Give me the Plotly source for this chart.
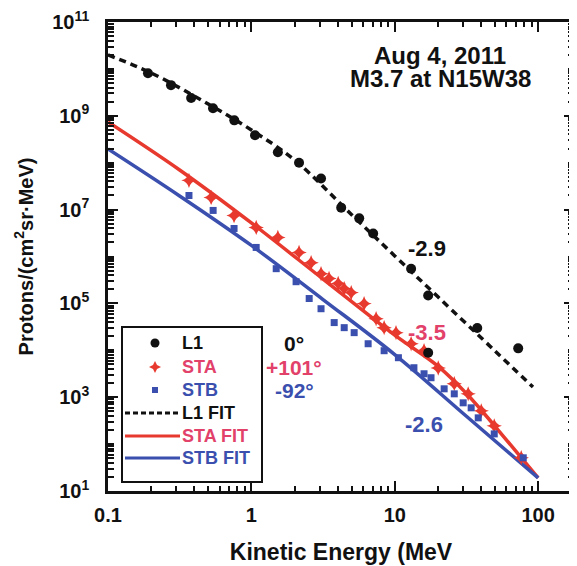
import plotly.graph_objects as go

# ---------------- data ----------------
l1_E = [0.19, 0.275, 0.38, 0.54, 0.76, 1.06, 1.53, 2.15, 3.06, 4.23, 5.65, 7.07,
        13.0, 17.1, 17.1, 37.6, 72.6]
l1_J = [8.1e9, 4.5e9, 2.4e9, 1.45e9, 8.0e8, 3.85e8, 1.67e8, 1.0e8, 4.6e7, 1.1e7,
        6.5e6, 3.1e6, 5.5e5, 1.47e5, 8.9e3, 3.0e4, 1.1e4]

sta_E = [0.367, 0.524, 0.757, 1.08, 1.53, 2.15, 2.61, 3.06, 3.48, 4.03, 4.44, 4.97,
         6.11, 7.41, 8.43, 10.2, 13.0, 16.0, 20.1, 26.0, 32.5, 40.1, 49.4, 76.2]
sta_J = [4.2e7, 1.82e7, 7.5e6, 4.17e6, 2.55e6, 1.22e6, 7.4e5, 4.3e5, 3.4e5, 2.65e5,
         2.07e5, 1.70e5, 9.9e4, 4.7e4, 3.04e4, 2.38e4, 1.38e4, 9.8e3, 4.2e3, 1.93e3,
         1.18e3, 512, 245, 51]

stb_E = [0.367, 0.541, 0.757, 1.08, 1.49, 2.05, 2.53, 3.06, 3.78, 4.44, 5.21, 6.52,
         8.43, 10.6, 13.6, 16.0, 17.9, 22.1, 26.0, 30.0, 34.1, 38.2, 49.4, 78.7]
stb_J = [2.0e7, 9.6e6, 3.96e6, 1.56e6, 5.5e5, 2.9e5, 1.27e5, 7.7e4, 3.9e4, 3.04e4,
         2.38e4, 1.38e4, 9.8e3, 6.95e3, 4.25e3, 3.16e3, 2.6e3, 1.51e3, 1.18e3, 759,
         594, 363, 165, 51]

l1fit_E = [0.1, 0.2, 0.5, 1, 2, 5, 10, 20, 50, 92]
l1fit_J = [1.98e10, 8.2e9, 1.79e9, 4.98e8, 1.14e8, 7.8e6, 1.03e6, 1.38e5, 9.7e3, 1.65e3]

stafit_E = [0.1, 0.316, 1, 3.16, 10, 20, 31.6, 40, 50, 100]
stafit_J = [7.4e8, 7.0e7, 5.2e6, 3.3e5, 2.1e4, 4.6e3, 1.2e3, 533, 240, 19]

stbfit_E = [0.1, 0.316, 1, 3.16, 10, 31.6, 100]
stbfit_J = [1.96e8, 1.95e7, 1.72e6, 1.21e5, 8.1e3, 392, 19]

x_tickvals = [0.1, 1, 10, 100]
x_ticktext = ["0.1", "1", "10", "100"]
y_tickvals = [1e1, 1e3, 1e5, 1e7, 1e9, 1e11]
y_ticktext = ["10<sup>1</sup>", "10<sup>3</sup>", "10<sup>5</sup>",
              "10<sup>7</sup>", "10<sup>9</sup>", "10<sup>11</sup>"]

title_lines = ["Aug 4, 2011", "M3.7 at N15W38"]
slope_labels = ["-2.9", "-3.5", "-2.6"]
angle_labels = ["0°", "+101°", "-92°"]
legend_names = ["L1", "STA", "STB", "L1 FIT", "STA FIT", "STB FIT"]

# ---------------- styles ----------------
BLACK = "#111111"
RED = "#e8392e"
RED_TXT = "#e2416a"
BLUE = "#3a4fae"
FONT = "Liberation Sans, Arial, Helvetica, sans-serif"

W, H = 577, 566
OFF = 8  # page body offset of the figure
# plot area in page pixels
L, R, T, B = 108, 574, 22, 491
ML, MR, MT, MB = L - OFF, W - (R - OFF), T - OFF, H - (B - OFF)


def px(x):
    return (x - L) / (R - L)


def py(y):
    return (B - y) / (B - T)


fig = go.Figure()

fig.add_trace(go.Scatter(x=l1fit_E, y=l1fit_J, mode="lines", line_shape="spline",
                         line=dict(color=BLACK, width=3.5, dash="7px,5px"),
                         showlegend=False, name="L1 FIT"))
fig.add_trace(go.Scatter(x=stafit_E, y=stafit_J, mode="lines", line_shape="spline",
                         line=dict(color=RED, width=3.5), showlegend=False, name="STA FIT"))
fig.add_trace(go.Scatter(x=stbfit_E, y=stbfit_J, mode="lines", line_shape="spline",
                         line=dict(color=BLUE, width=3.5), showlegend=False, name="STB FIT"))

fig.add_trace(go.Scatter(x=sta_E, y=sta_J, mode="markers",
                         marker=dict(symbol="star-diamond", size=11, color=RED),
                         showlegend=False, name="STA"))
fig.add_trace(go.Scatter(x=stb_E, y=stb_J, mode="markers",
                         marker=dict(symbol="square", size=7, color=BLUE),
                         showlegend=False, name="STB"))
fig.add_trace(go.Scatter(x=l1_E, y=l1_J, mode="markers",
                         marker=dict(symbol="circle", size=10, color=BLACK),
                         showlegend=False, name="L1"))

minor_x = [d * 10.0 ** k for k in range(-1, 3) for d in range(2, 10)]
minor_y = [d * 10.0 ** k for k in range(1, 11) for d in range(1, 10) if (d > 1 or k % 2 == 0)]

axis_common = dict(showline=True, linecolor=BLACK, linewidth=2.5, mirror="ticks",
                   ticks="inside", ticklen=10, tickwidth=2, tickcolor=BLACK,
                   showgrid=False, zeroline=False, automargin=False,
                   ticklabeloverflow="allow",
                   tickfont=dict(family=FONT, size=20, color=BLACK, weight="bold"))

fig.update_xaxes(type="log", range=[-1, 2.25], tickmode="array",
                 tickvals=x_tickvals, ticktext=x_ticktext, ticklabelstandoff=4,
                 minor=dict(ticks="inside", ticklen=5, tickwidth=1.5, tickcolor=BLACK,
                            tickvals=minor_x, showgrid=False),
                 title=dict(text="Kinetic Energy (MeV",
                            font=dict(family=FONT, size=23, color=BLACK, weight="bold"),
                            standoff=20),
                 **axis_common)
fig.update_yaxes(type="log", range=[1, 11], tickmode="array",
                 tickvals=y_tickvals, ticktext=y_ticktext, ticklabelstandoff=12,
                 minor=dict(ticks="inside", ticklen=6, tickwidth=1.5, tickcolor=BLACK,
                            tickvals=minor_y, showgrid=False),
                 title=dict(text="Protons/(cm<sup>2</sup>sr·MeV)",
                            font=dict(family=FONT, size=20, color=BLACK, weight="bold"),
                            standoff=14),
                 **axis_common)

ann = []
# title block
ann.append(dict(x=px(440), y=py(55), text=title_lines[0]))
ann.append(dict(x=px(440), y=py(78), text=title_lines[1]))
for a in ann:
    a.update(xref="paper", yref="paper", showarrow=False, xanchor="center",
             yanchor="middle", font=dict(family=FONT, size=24, color=BLACK, weight="bold"))

# slope labels
for txt, (xx, yy), col in zip(slope_labels, [(427, 248), (427, 332), (424, 424)],
                              [BLACK, RED_TXT, BLUE]):
    ann.append(dict(x=px(xx), y=py(yy), xref="paper", yref="paper", text=txt,
                    showarrow=False, xanchor="center", yanchor="middle",
                    font=dict(family=FONT, size=22, color=col, weight="bold")))

# angle labels
for txt, yy, col in zip(angle_labels, [343, 367, 390], [BLACK, RED_TXT, BLUE]):
    ann.append(dict(x=px(294), y=py(yy), xref="paper", yref="paper", text=txt,
                    showarrow=False, xanchor="center", yanchor="middle",
                    font=dict(family=FONT, size=21, color=col, weight="bold")))

# legend texts
leg_y = [343, 367, 390, 413, 436, 458]
leg_col = [BLACK, RED_TXT, BLUE, BLACK, RED_TXT, BLUE]
for txt, yy, col in zip(legend_names, leg_y, leg_col):
    ann.append(dict(x=px(180), y=py(yy), xref="paper", yref="paper", text=txt,
                    showarrow=False, xanchor="left", yanchor="middle",
                    font=dict(family=FONT, size=18, color=col, weight="bold")))

shapes = []
# legend box
shapes.append(dict(type="rect", xref="paper", yref="paper", x0=px(122), x1=px(262),
                   y0=py(482), y1=py(327), line=dict(color=BLACK, width=2),
                   fillcolor="white", layer="above"))
# legend line samples
for yy, col, dash in zip(leg_y[3:], [BLACK, RED, BLUE], ["5px,3px", "solid", "solid"]):
    shapes.append(dict(type="line", xref="paper", yref="paper", x0=px(125), x1=px(180),
                       y0=py(yy), y1=py(yy), line=dict(color=col, width=3, dash=dash),
                       layer="above"))
# legend markers
shapes.append(dict(type="circle", xref="paper", yref="paper", xsizemode="pixel",
                   ysizemode="pixel", xanchor=px(155), yanchor=py(leg_y[0]),
                   x0=-4.5, x1=4.5, y0=-4.5, y1=4.5, fillcolor=BLACK,
                   line=dict(width=0), layer="above"))
shapes.append(dict(type="path", xref="paper", yref="paper", xsizemode="pixel",
                   ysizemode="pixel", xanchor=px(155), yanchor=py(leg_y[1]),
                   path="M0,6 L2,2 L6,0 L2,-2 L0,-6 L-2,-2 L-6,0 L-2,2 Z",
                   fillcolor=RED, line=dict(width=0), layer="above"))
shapes.append(dict(type="rect", xref="paper", yref="paper", xsizemode="pixel",
                   ysizemode="pixel", xanchor=px(155), yanchor=py(leg_y[2]),
                   x0=-3, x1=3, y0=-3, y1=3, fillcolor=BLUE,
                   line=dict(width=0), layer="above"))

fig.update_layout(width=W, height=H, margin=dict(l=ML, r=MR, t=MT, b=MB),
                  paper_bgcolor="white", plot_bgcolor="white",
                  annotations=ann, shapes=shapes, showlegend=False,
                  font=dict(family=FONT, color=BLACK))

fig.write_html("out.html")
